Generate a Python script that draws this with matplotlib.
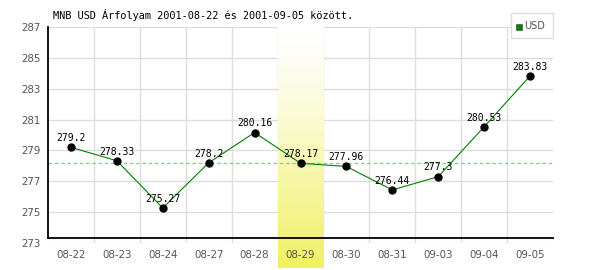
import numpy as np
import matplotlib
matplotlib.use("Agg")
import matplotlib.pyplot as plt

dates = ["08-22", "08-23", "08-24", "08-27", "08-28", "08-29",
         "08-30", "08-31", "09-03", "09-04", "09-05"]
rates = [279.2, 278.33, 275.27, 278.2, 280.16, 278.17,
         277.96, 276.44, 277.3, 280.53, 283.83]
rate_labels = ["279.2", "278.33", "275.27", "278.2", "280.16", "278.17",
               "277.96", "276.44", "277.3", "280.53", "283.83"]
highlight_idx = 5
y_ticks = [273, 275, 277, 279, 281, 283, 285, 287]
title = "MNB USD Árfolyam 2001-08-22 és 2001-09-05 között."

MONO = "DejaVu Sans Mono"
GRID = "#dddddd"
TICK = "#555555"

fig = plt.figure(figsize=(6, 2.7), dpi=100, facecolor="white")
ax = fig.add_axes([48 / 600, 1 - 243 / 270, 505 / 600, 216 / 270])
ax.set_facecolor("white")

x = np.arange(len(dates))

# grid
for yv in y_ticks:
    ax.axhline(yv, color=GRID, lw=1, zorder=1)
for xv in x[:-1] + 0.5:
    ax.axvline(xv, color=GRID, lw=1, zorder=1)

# highlighted day band, white at top fading into yellow
grad = np.linspace(0, 1, 256).reshape(-1, 1) ** 1.3
cmap = matplotlib.colors.LinearSegmentedColormap.from_list(
    "band", ["#ffffff", "#f0f060"])
ax.imshow(grad, cmap=cmap, aspect="auto", origin="upper",
          extent=(highlight_idx - 0.5, highlight_idx + 0.5, 271.38, 287),
          clip_on=False, zorder=2)

# reference line at highlighted value
ax.axhline(rates[highlight_idx], color="#88d088", lw=0.9,
           dashes=(3, 2), zorder=3)

# black axis lines
ax.plot([0, 0], [0.023, 1], transform=ax.transAxes, color="black",
        lw=1.3, clip_on=False, zorder=5)
ax.plot([0, 1], [0.023, 0.023], transform=ax.transAxes, color="black",
        lw=1.3, clip_on=False, zorder=5)

ax.plot(x, rates, color="#008000", lw=0.8, zorder=6)
ax.plot(x, rates, "o", color="black", markersize=5, zorder=7)
for xi, yi, lab in zip(x, rates, rate_labels):
    ax.annotate(lab, (xi, yi), xytext=(0, 3), textcoords="offset points",
                ha="center", va="bottom", fontsize=7, family=MONO,
                color="black", zorder=8)

ax.set_xlim(-0.5, len(dates) - 0.5)
ax.set_ylim(273, 287)
ax.set_xticks(x)
ax.set_xticklabels(dates)
ax.set_yticks(y_ticks)
ax.tick_params(length=0, labelsize=7.4, labelcolor=TICK, pad=5)
ax.xaxis.set_zorder(9)
ax.yaxis.set_zorder(9)
for s in ax.spines.values():
    s.set_visible(False)

fig.text(53 / 600, 1 - 15 / 270, title, family=MONO, fontsize=7.4,
         color="black", ha="left", va="center")

# legend box
fig.patches.append(plt.Rectangle((511 / 600, 1 - 38 / 270), 42 / 600, 25 / 270,
                                 transform=fig.transFigure, facecolor="white",
                                 edgecolor=GRID, lw=1, zorder=10))
fig.patches.append(plt.Rectangle((516 / 600, 1 - 30 / 270), 6 / 600, 6 / 270,
                                 transform=fig.transFigure, facecolor="#008000",
                                 edgecolor="#555555", lw=0.5, zorder=11))
fig.text(524 / 600, 1 - 26 / 270, "USD", fontsize=7, color=TICK,
         ha="left", va="center", zorder=12)

fig.savefig("out.png", dpi=100, facecolor="white")
